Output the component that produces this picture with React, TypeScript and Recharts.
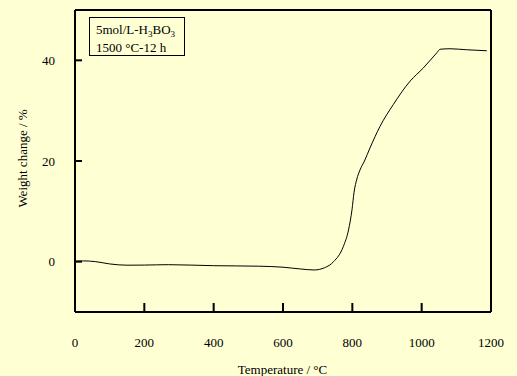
import React from 'react';
import { LineChart, Line, XAxis, YAxis, Label } from 'recharts';

const temperatures = [0, 25, 60, 100, 150, 200, 270, 400, 530, 600, 650, 690, 720, 746, 774, 789, 799, 805, 813, 822, 835, 851, 880, 918, 967, 1005, 1045, 1053, 1082, 1130, 1188];
const weightChange = [0.1, 0.15, 0.0, -0.45, -0.7, -0.68, -0.6, -0.8, -0.9, -1.1, -1.45, -1.65, -1.2, 0.0, 3.0, 6.3, 10.3, 13.8, 16.4, 18.2, 20.0, 22.6, 26.9, 31.2, 35.9, 38.5, 41.6, 42.2, 42.3, 42.1, 41.9];
const xTicks = [0, 200, 400, 600, 800, 1000, 1200];
const yTicks = [0, 20, 40];

const data = temperatures.map((t, i) => ({ t, w: weightChange[i] }));

const FONT = '"Liberation Serif", "Times New Roman", serif';
const BG = '#FFFFD4';

const XTick = (props: any) => {
  const { x, y, payload } = props;
  const v = payload.value;
  return (
    <g>
      {v !== 0 && v !== 1200 && (
        <line x1={x} x2={x} y1={y} y2={y - 9} stroke="#000" strokeWidth={2} />
      )}
      <text x={x} y={y + 35} textAnchor="middle" fontSize={13} fontFamily={FONT} fill="#000">
        {v}
      </text>
    </g>
  );
};

const YTick = (props: any) => {
  const { x, y, payload } = props;
  return (
    <g>
      <line x1={x} x2={x + 7} y1={y} y2={y} stroke="#000" strokeWidth={2} />
      <text x={x - 20} y={y + 4.5} textAnchor="end" fontSize={13} fontFamily={FONT} fill="#000">
        {payload.value}
      </text>
    </g>
  );
};

export default function App() {
  return (
    <div style={{ position: 'absolute', left: 0, top: 0, width: 517, height: 376, background: BG, overflow: 'hidden' }}>
      <LineChart width={517} height={376} data={data} margin={{ top: 0, right: 0, bottom: 0, left: 0 }}>
        <XAxis
          dataKey="t"
          type="number"
          domain={[0, 1200]}
          ticks={xTicks}
          height={64}
          tickSize={0}
          tickMargin={0}
          tickLine={false}
          tick={<XTick />}
          axisLine={{ stroke: '#000', strokeWidth: 2 }}
          interval={0}
        >
          <Label
            content={() => (
              <text x={282.5} y={373.5} textAnchor="middle" fontSize={13} fontFamily={FONT} fill="#000">
                Temperature / °C
              </text>
            )}
          />
        </XAxis>
        <XAxis
          xAxisId="top"
          orientation="top"
          dataKey="t"
          type="number"
          domain={[0, 1200]}
          height={10}
          tick={false}
          tickLine={false}
          axisLine={{ stroke: '#000', strokeWidth: 2 }}
        />
        <YAxis
          type="number"
          domain={[-10, 50]}
          ticks={yTicks}
          width={75}
          tickSize={0}
          tickMargin={0}
          tickLine={false}
          tick={<YTick />}
          axisLine={{ stroke: '#000', strokeWidth: 2 }}
          interval={0}
        >
          <Label
            content={() => (
              <text
                transform="translate(27,158.5) rotate(-90)"
                textAnchor="middle"
                fontSize={13}
                fontFamily={FONT}
                fill="#000"
              >
                Weight change / %
              </text>
            )}
          />
        </YAxis>
        <YAxis
          yAxisId="right"
          orientation="right"
          type="number"
          domain={[-10, 50]}
          width={26}
          tick={false}
          tickLine={false}
          axisLine={{ stroke: '#000', strokeWidth: 2 }}
        />
        <Line
          type="monotone"
          dataKey="w"
          stroke="#000"
          strokeWidth={1}
          dot={false}
          isAnimationActive={false}
        />
      </LineChart>
      <div
        style={{
          position: 'absolute',
          left: 89,
          top: 17,
          width: 96,
          height: 39,
          border: '1px solid #000',
          fontFamily: FONT,
          fontSize: 13,
          lineHeight: '15.5px',
          color: '#000',
          paddingLeft: 6,
          paddingTop: 4,
          boxSizing: 'border-box',
          whiteSpace: 'nowrap',
        }}
      >
        <div>
          5mol/L-H<sub style={{ fontSize: 9, verticalAlign: 'baseline', position: 'relative', top: 3 }}>3</sub>BO
          <sub style={{ fontSize: 9, verticalAlign: 'baseline', position: 'relative', top: 3 }}>3</sub>
        </div>
        <div>1500 °C-12 h</div>
      </div>
    </div>
  );
}
